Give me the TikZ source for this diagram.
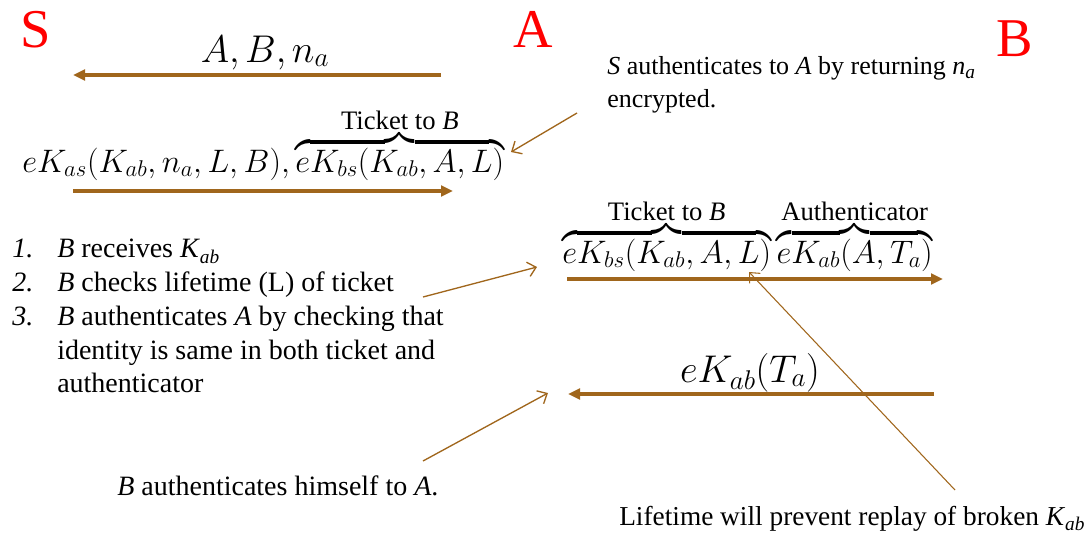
\documentclass[tikz,border=0pt]{standalone}
\usepackage{amsmath}
\usepackage{fontspec}
\newfontfamily\tms{LiberationSerif}[Extension=.ttf,UprightFont=*-Regular,ItalicFont=*-Italic,BoldFont=*-Bold,BoldItalicFont=*-BoldItalic]
\DeclareFontShape{OML}{cmm}{m}{it}{<-6>cmmi5<6-7>cmmi6<7-8>cmmi7<8-9>cmmi8<9-10>cmmi9<10-12>cmmi10<12->cmmi12}{}
\DeclareFontShape{OT1}{cmr}{m}{n}{<-6>cmr5<6-7>cmr6<7-8>cmr7<8-9>cmr8<9-10>cmr9<10-12>cmr10<12-17>cmr12<17->cmr17}{}
\usetikzlibrary{arrows.meta}
\definecolor{msgbrown}{HTML}{A0661C}
\definecolor{partyred}{HTML}{FF0000}
\newcommand{\itsub}[2]{\textit{#1}\raisebox{-.4ex}{\fontsize{14.5}{14.5}\selectfont\textit{#2}}}
\newcommand{\bracelab}[1]{\hbox{\tms\fontsize{20}{20}\selectfont #1}}

\begin{document}
\begin{tikzpicture}[x=.75pt,y=-.75pt,
  party/.style={text=partyred,font=\tms\fontsize{41}{41}\selectfont,inner sep=0pt,anchor=base west},
  msg/.style={font=\fontsize{24.4}{28}\selectfont,inner sep=0pt},
  bigmsg/.style={msg,font=\fontsize{29}{34}\selectfont},
  note/.style={font=\tms\fontsize{21}{25.3}\selectfont,inner sep=0pt,anchor=base west,align=left},
  msgarrow/.style={draw=msgbrown,line width=2.4pt,-{Triangle[length=9pt,width=8pt]}},
  notearrow/.style={draw=msgbrown,line width=1pt,-{Straight Barb[length=6pt,width=11pt]}}]
  \useasboundingbox (0,0) rectangle (1090,533);
  \node[party] (S) at (20,47) {S};
  \node[party] (A) at (513,47) {A};
  \node[party] (B) at (996,56) {B};

  \node[bigmsg,anchor=base] (m1) at (265,62) {$A,B,n_a$};
  \coordinate (m1from) at (441,75);
  \coordinate (m1to) at (73,75);
  \draw[msgarrow] (m1from) -- (m1to);

  \node[msg,anchor=base west] (m2) at (22,172)
    {$eK_{as}(K_{ab},n_a,L,B),\overbrace{eK_{bs}(K_{ab},A,L)}^{\bracelab{Ticket to \textit{B}}}$};
  \coordinate (m2from) at (73,191);
  \coordinate (m2to) at (453,191);
  \draw[msgarrow] (m2from) -- (m2to);

  \node[msg,anchor=base west] (m3) at (562,263)
    {$\overbrace{eK_{bs}(K_{ab},A,L)}^{\bracelab{Ticket to \textit{B}}}
      \overbrace{eK_{ab}(A,T_a)}^{\bracelab{Authenticator}}$};
  \coordinate (m3from) at (567,279);
  \coordinate (m3to) at (943,279);
  \draw[msgarrow] (m3from) -- (m3to);

  \node[bigmsg,anchor=base] (m4) at (750,382) {$eK_{ab}(T_a)$};
  \coordinate (m4from) at (934,394);
  \coordinate (m4to) at (568,394);
  \draw[msgarrow] (m4from) -- (m4to);

  \node[note,font=\tms\fontsize{19.5}{24.7}\selectfont] (nonce) at (607,107)
    {\textit{S} authenticates to \textit{A} by returning \itsub{n}{a}\\encrypted.};
  \coordinate (noncefrom) at (577,113);
  \coordinate (nonceto) at (511,152);
  \draw[notearrow] (noncefrom) -- (nonceto);

  \node[note,anchor=north west] (checks) at (12,234)
    {\begin{tabular}{@{}p{33.75pt}@{}l@{}}
      \textit{1.} & \textit{B} receives \itsub{K}{ab}\\
      \textit{2.} & \textit{B} checks lifetime (L) of ticket\\
      \textit{3.} & \textit{B} authenticates \textit{A} by checking that\\
                  & identity is same in both ticket and\\
                  & authenticator
    \end{tabular}};
  \coordinate (checksfrom) at (423,297);
  \coordinate (checksto) at (537,267);
  \draw[notearrow] (checksfrom) -- (checksto);

  \node[note] (himself) at (117,495) {\textit{B} authenticates himself to \textit{A}.};
  \coordinate (himselffrom) at (423,461);
  \coordinate (himselfto) at (548,393);
  \draw[notearrow] (himselffrom) -- (himselfto);

  \node[note,font=\tms\fontsize{20.5}{24}\selectfont] (replay) at (619,525)
    {Lifetime will prevent replay of broken \itsub{K}{ab}};
  \coordinate (replayfrom) at (955,490);
  \coordinate (replayto) at (749,272);
  \draw[notearrow,line width=.8pt] (replayfrom) -- (replayto);
\end{tikzpicture}
\end{document}
